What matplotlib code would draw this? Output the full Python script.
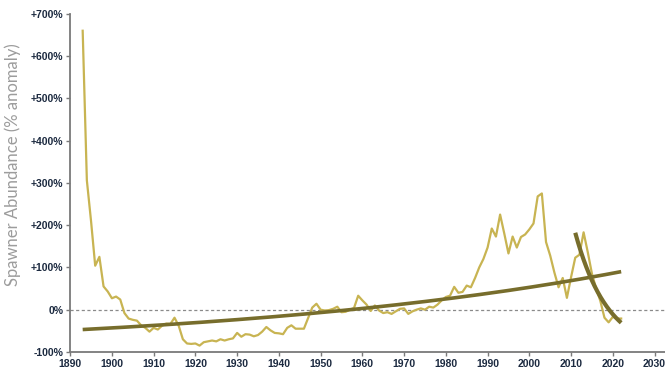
import numpy as np
import matplotlib
matplotlib.use("Agg")
import matplotlib.pyplot as plt

# yearly spawner abundance, % anomaly
years = list(range(1893, 2023))
abundance = [
    660, 306, 210, 104, 125, 55, 43, 27, 31, 24,          # 1893-1902
    -8, -21, -24, -26, -37, -43, -52, -43, -47, -38,     # 1903-1912
    -33, -34, -19, -38, -70, -80, -81, -80, -85, -77,    # 1913-1922
    -75, -73, -75, -70, -73, -70, -68, -55, -64, -58,    # 1923-1932
    -59, -63, -60, -52, -41, -49, -55, -56, -58, -43,    # 1933-1942
    -37, -45, -45, -45, -20, 5, 14, 0, -2, -1,           # 1943-1952
    2, 7, -6, -5, 0, 4, 33, 22, 12, -3,                  # 1953-1962
    10, -2, -8, -6, -10, -4, 2, 3, -10, -4,              # 1963-1972
    0, 3, 0, 7, 5, 12, 22, 30, 33, 54,                   # 1973-1982
    40, 42, 57, 53, 75, 100, 120, 147, 192, 173,         # 1983-1992
    225, 180, 133, 173, 147, 172, 178, 190, 204, 268,    # 1993-2002
    275, 160, 128, 88, 53, 75, 28, 77, 123, 130,         # 2003-2012
    183, 136, 85, 50, 21, -19, -30, -17, -21, -21,       # 2013-2022
][:len(years)]

# exponential trend lines, given by their end points (year, % anomaly)
long_trend = [(1893, -47), (2022, 90)]
recent_trend = [(2011, 182), (2022, -31)]

y_ticks = [-100, 0, 100, 200, 300, 400, 500, 600, 700]
y_tick_labels = ["-100%", "0%", "+100%", "+200%", "+300%", "+400%", "+500%", "+600%", "+700%"]
x_ticks = list(range(1890, 2031, 10))


def exp_trend(ends, n=200):
    (t0, v0), (t1, v1) = ends
    t = np.linspace(t0, t1, n)
    r0, r1 = 1 + v0 / 100, 1 + v1 / 100
    r = r0 * (r1 / r0) ** ((t - t0) / (t1 - t0))
    return t, (r - 1) * 100


fig = plt.figure(figsize=(6.65, 3.74), dpi=100)
ax = fig.add_axes([0.1055, 0.059, 0.8945, 0.904])

ax.axhline(0, color="#8a8a8a", lw=0.9, ls=(0, (2.5, 2)), zorder=1)
ax.plot(years, abundance, color="#c8b452", lw=1.6, zorder=2)

t, v = exp_trend(long_trend)
ax.plot(t, v, color="#776d2c", lw=2.6, solid_capstyle="butt", zorder=3)
t, v = exp_trend(recent_trend)
ax.plot(t, v, color="#776d2c", lw=3.0, solid_capstyle="butt", zorder=3)

ax.set_xlim(1890, 2032.5)
ax.set_ylim(-100, 700)
ax.set_xticks(x_ticks)
ax.set_yticks(y_ticks)
ax.set_yticklabels(y_tick_labels)

for side in ("top", "right"):
    ax.spines[side].set_visible(False)
for side in ("left", "bottom"):
    ax.spines[side].set_color("#7a7a7a")
    ax.spines[side].set_linewidth(1.3)

ax.tick_params(axis="both", direction="out", length=3, width=1, color="#7a7a7a",
               labelcolor="#1c2a40", pad=2)
for lab in ax.get_xticklabels() + ax.get_yticklabels():
    lab.set_fontfamily("Liberation Sans")
    lab.set_fontweight("bold")
    lab.set_fontsize(7.5)

ax.set_ylabel("Spawner Abundance (% anomaly)", color="#9c9c9c", fontsize=12,
              fontfamily="Lato", fontweight="normal")
ax.yaxis.set_label_coords(-0.082, 0.555)

fig.savefig("out.png", dpi=100)
